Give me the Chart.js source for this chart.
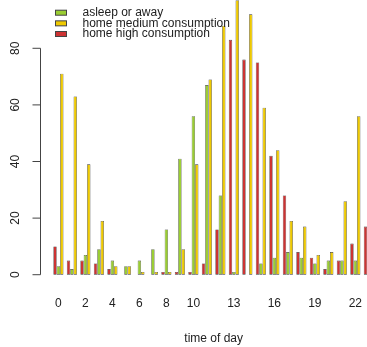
<!DOCTYPE html>
<html>
<head>
<meta charset="utf-8">
<script src="https://cdn.jsdelivr.net/npm/chart.js@4/dist/chart.umd.min.js"></script>
<style>
  html, body { margin: 0; padding: 0; background: #fff; }
  #wrap { position: relative; width: 367px; height: 347px; overflow: hidden; }
  #usage { position: absolute; left: 0; top: -20px; }
</style>
</head>
<body>
<div id="wrap"><canvas id="usage" width="400" height="380"></canvas></div>
<script>
const hours = [0, 1, 2, 3, 4, 5, 6, 7, 8, 9, 10, 11, 12, 13, 14, 15, 16, 17, 18, 19, 20, 21, 22, 23];
const highUse = [10, 5, 5, 4, 2, 0, 0, 0, 1, 1, 1, 4, 16, 83, 76, 75, 42, 28, 8, 6, 2, 5, 11, 17];
const asleep = [3, 2, 7, 9, 5, 3, 5, 9, 16, 41, 56, 67, 28, 1, 0, 4, 6, 8, 6, 4, 5, 5, 5, 4];
const mediumUse = [71, 63, 39, 19, 3, 3, 1, 1, 1, 9, 39, 69, 88, 97, 92, 59, 44, 19, 17, 7, 8, 26, 56, 35];
const xTickLabels = [0, 2, 4, 6, 8, 10, 13, 16, 19, 22];
const yTickLabels = [0, 20, 40, 60, 80];

const FONT = "'Liberation Sans', Arial, sans-serif";
const colors = { high: "#cd3333", asleep: "#9acd32", medium: "#eec900" };

// legend entries in the order they are listed, not the bar order
const legendItems = [
  ["asleep or away", colors.asleep],
  ["home medium consumption", colors.medium],
  ["home high consumption", colors.high],
];

// base-graphics style y axis: line only spans the labelled ticks
const rAxis = {
  id: "rAxis",
  afterDraw(chart) {
    const { ctx, chartArea } = chart;
    const y = chart.scales.y;
    const x0 = chartArea.left;
    ctx.save();
    ctx.strokeStyle = "#444";
    ctx.lineWidth = 1;
    ctx.beginPath();
    ctx.moveTo(x0, y.getPixelForValue(yTickLabels[0]));
    ctx.lineTo(x0, y.getPixelForValue(yTickLabels[yTickLabels.length - 1]));
    yTickLabels.forEach((v) => {
      const py = y.getPixelForValue(v);
      ctx.moveTo(x0 - 8, py);
      ctx.lineTo(x0, py);
    });
    ctx.stroke();
    ctx.fillStyle = "#222";
    ctx.font = "12px " + FONT;
    ctx.textAlign = "center";
    ctx.textBaseline = "middle";
    yTickLabels.forEach((v) => {
      ctx.save();
      ctx.translate(x0 - 25, y.getPixelForValue(v));
      ctx.rotate(-Math.PI / 2);
      ctx.fillText(String(v), 0, 0);
      ctx.restore();
    });

    // legend box in the top left corner
    ctx.font = "12px " + FONT;
    ctx.textAlign = "left";
    legendItems.forEach(([label, color], i) => {
      const cy = 32.7 + i * 10.65;
      ctx.fillStyle = color;
      ctx.fillRect(55.5, cy - 2.5, 11, 5);
      ctx.strokeStyle = "#444";
      ctx.strokeRect(55.5, cy - 2.5, 11, 5);
      ctx.fillStyle = "#222";
      ctx.fillText(label, 82.5, cy);
    });
    ctx.restore();
  },
};

const barStyle = { borderColor: "#333", borderWidth: 0.6, borderSkipped: false };

new Chart(document.getElementById("usage"), {
  type: "bar",
  data: {
    labels: hours,
    datasets: [
      { label: "home high consumption", data: highUse, backgroundColor: colors.high, ...barStyle },
      { label: "asleep or away", data: asleep, backgroundColor: colors.asleep, ...barStyle },
      { label: "home medium consumption", data: mediumUse, backgroundColor: colors.medium, ...barStyle },
    ],
  },
  options: {
    responsive: false,
    animation: false,
    devicePixelRatio: 1,
    layout: { padding: { left: 40.5, right: 13.2, top: 9.2, bottom: 13.8 } },
    datasets: { bar: { categoryPercentage: 0.75, barPercentage: 1 } },
    plugins: { legend: { display: false }, tooltip: { enabled: false } },
    scales: {
      x: {
        type: "linear",
        offset: false,
        min: -1.326,
        max: 24.33,
        grid: { display: false, drawTicks: false },
        border: { display: false },
        afterBuildTicks: (axis) => {
          axis.ticks = xTickLabels.map((v) => ({ value: v }));
        },
        ticks: {
          autoSkip: false,
          maxRotation: 0,
          padding: 11,
          color: "#222",
          font: { family: FONT, size: 12 },
          callback: (value) => String(value),
        },
        title: {
          display: true,
          text: "time of day",
          color: "#222",
          font: { family: FONT, size: 12 },
          padding: { top: 9.7, bottom: 0 },
        },
      },
      y: {
        display: false,
        min: -3.88,
        max: 100.88,
      },
    },
  },
  plugins: [rAxis],
});
</script>
</body>
</html>
